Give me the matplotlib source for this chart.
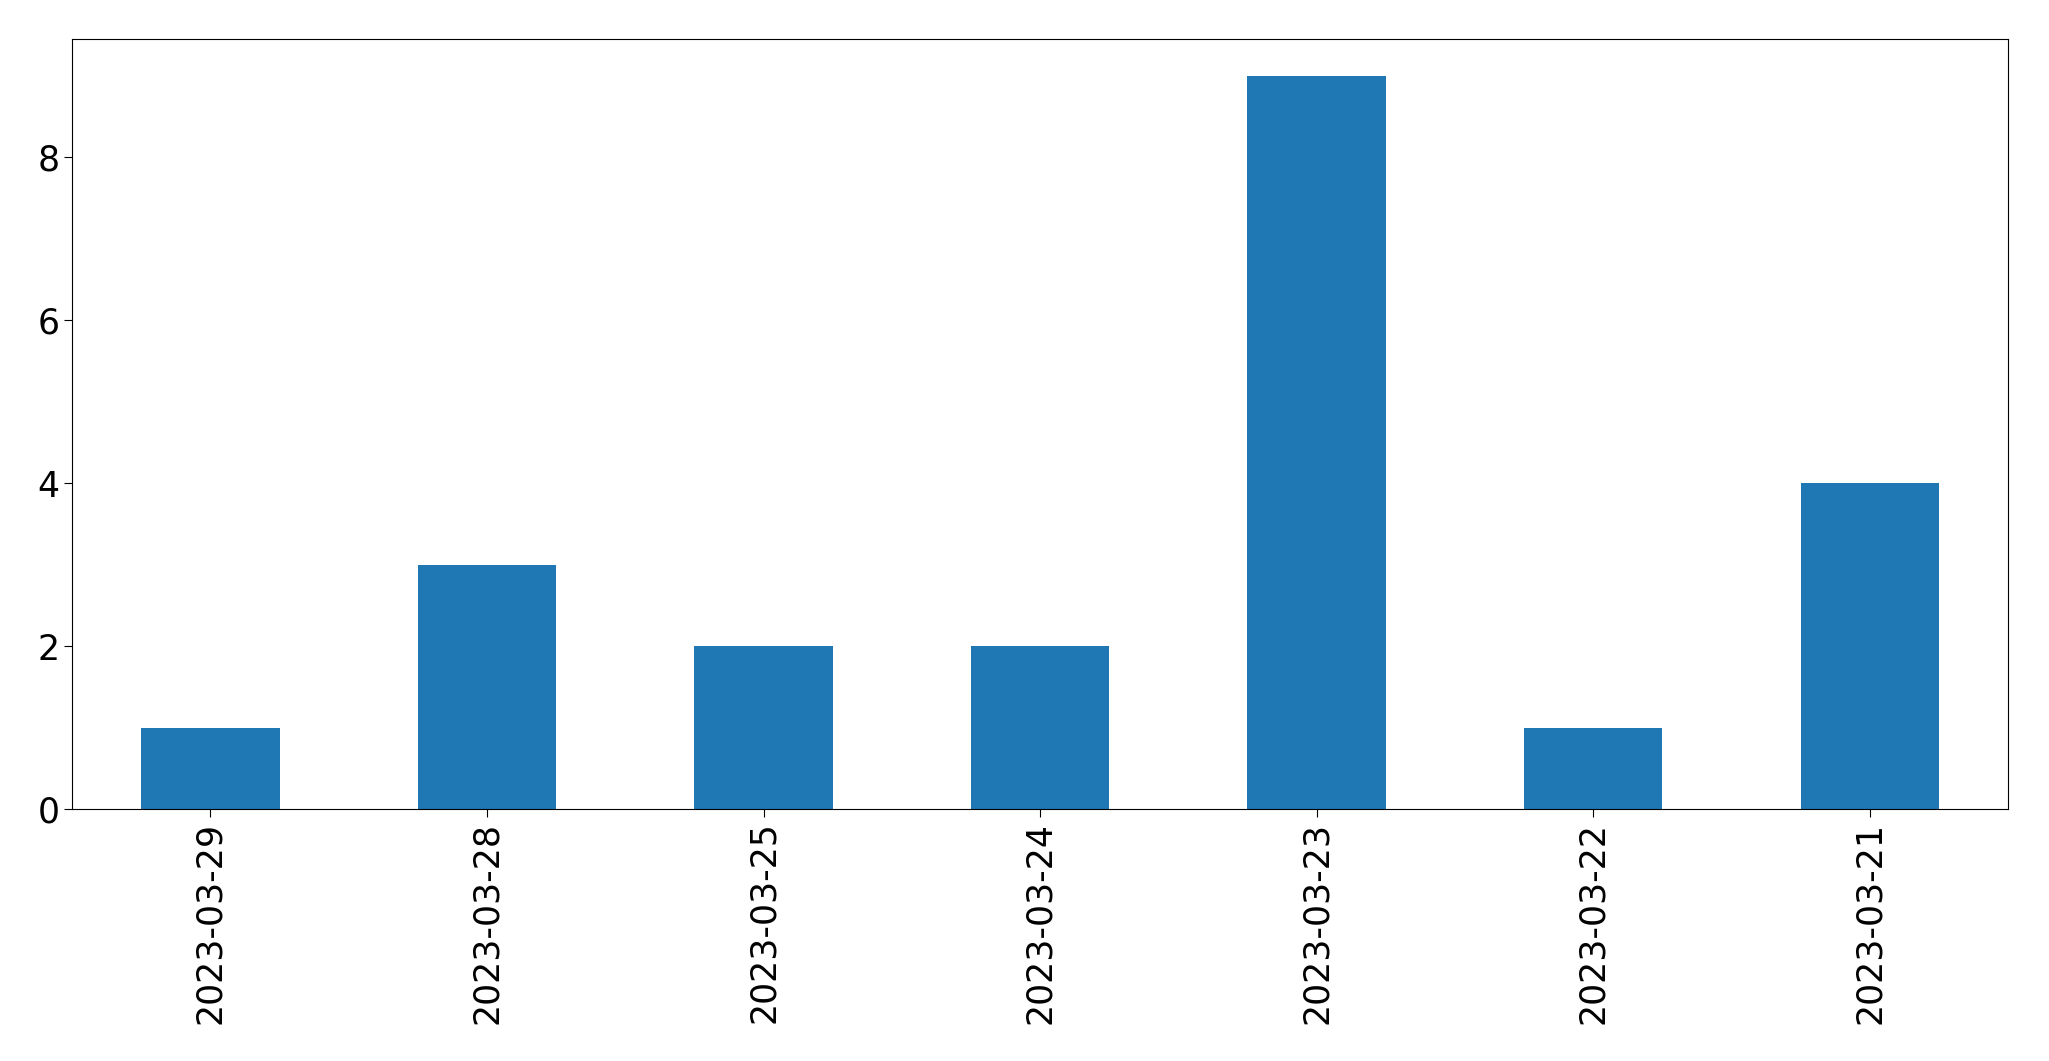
import matplotlib
matplotlib.use('Agg')
import matplotlib.pyplot as plt
import numpy as np

# Data
dates = ['2023-03-29', '2023-03-28', '2023-03-25', '2023-03-24',
         '2023-03-23', '2023-03-22', '2023-03-21']
counts = [1, 3, 2, 2, 9, 1, 4]

fig, ax = plt.subplots(figsize=(20.49, 10.61), dpi=100)
fig.subplots_adjust(left=0.0352, right=0.980, top=0.963, bottom=0.2375)

x = np.arange(len(dates))
ax.bar(x, counts, width=0.5, color='#1f77b4')
ax.set_xlim(-0.5, len(dates) - 0.5)
ax.set_ylim(0, max(counts) * 1.05)
ax.set_xticks(x)
ax.set_xticklabels(dates, rotation=90)
ax.set_yticks([0, 2, 4, 6, 8])
ax.tick_params(labelsize=25, length=5.5)

fig.savefig('out.png', dpi=100)
